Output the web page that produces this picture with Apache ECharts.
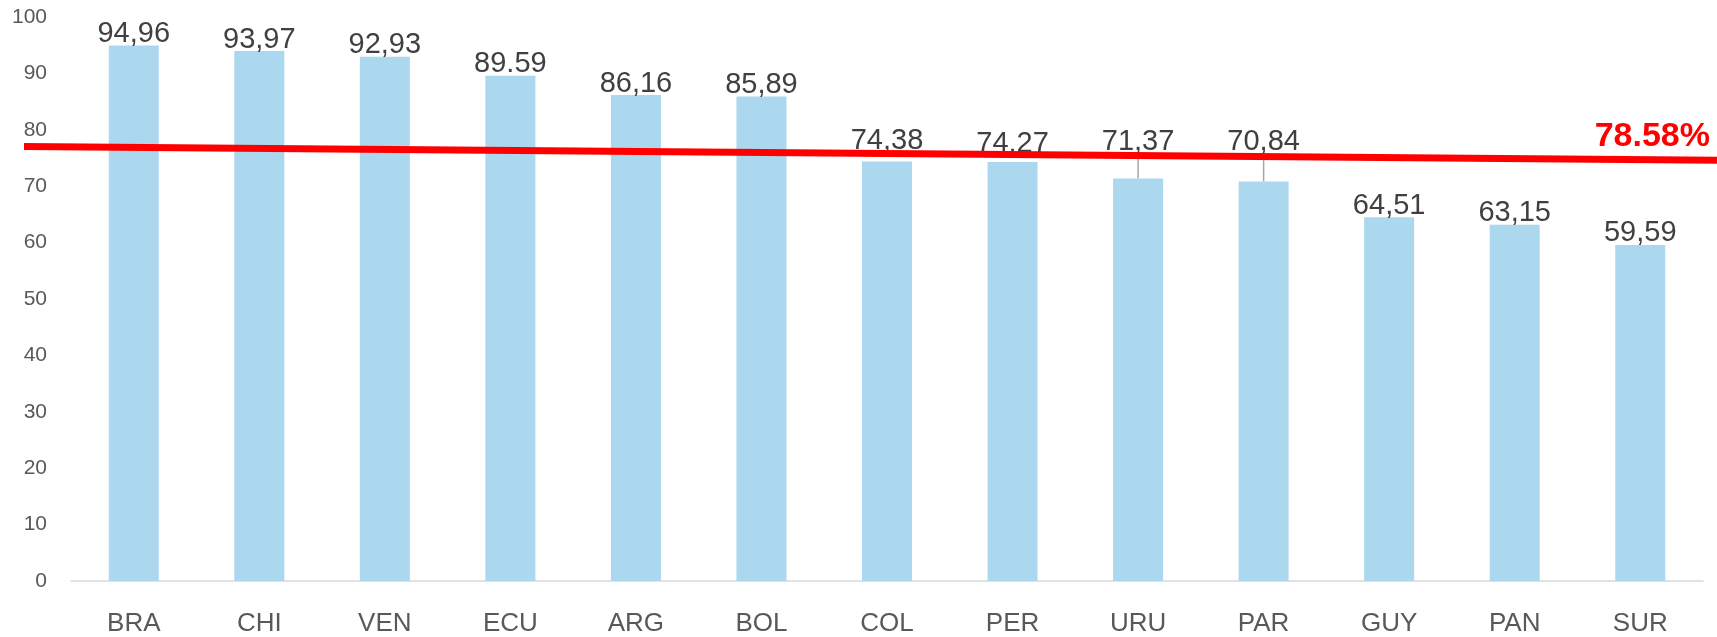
<!DOCTYPE html>
<html>
<head>
<meta charset="utf-8">
<script src="https://cdn.jsdelivr.net/npm/echarts@6/dist/echarts.min.js"></script>
<style>
html,body{margin:0;padding:0;background:#fff;}
#chart{width:1717px;height:637px;}
</style>
</head>
<body>
<div id="chart"></div>
<script>
// ---- data ----
const categories = ['BRA','CHI','VEN','ECU','ARG','BOL','COL','PER','URU','PAR','GUY','PAN','SUR'];
const values = [94.96, 93.97, 92.93, 89.59, 86.16, 85.89, 74.38, 74.27, 71.37, 70.84, 64.51, 63.15, 59.59];
const valueLabels = ['94,96','93,97','92,93','89.59','86,16','85,89','74,38','74,27','71,37','70,84','64,51','63,15','59,59'];
const yTicks = [0,10,20,30,40,50,60,70,80,90,100];
const refLineX = [0, 1];
const refLineY = [77.1, 74.7];
const refLineLabel = '78.58%';

// ---- chart ----
const labelNudge = [0,0,0,0,0,0,9,7,25,28,0,0,0];
const withLeader = [false,false,false,false,false,false,false,false,true,true,false,false,false];

const chart = echarts.init(document.getElementById('chart'), null, {renderer:'canvas'});
const FONT = 'Liberation Sans';

const barData = values.map((v, i) => {
  const item = { value: v };
  if (withLeader[i]) {
    item.labelLine = { show: true, lineStyle: { color: '#A6A6A6', width: 1.5 } };
  }
  return item;
});

const option = {
  animation: false,
  backgroundColor: '#ffffff',
  grid: [
    { left: 71, right: 14, top: 17, bottom: 54 },
    { left: 24, right: 0, top: 17, bottom: 54 }
  ],
  xAxis: [
    {
      type: 'category', gridIndex: 0, data: categories,
      axisLine: { show: true, lineStyle: { color: '#D9D9D9', width: 1.5 } },
      axisTick: { show: false },
      axisLabel: { color: '#595959', fontSize: 26, fontFamily: FONT, margin: 30 }
    },
    {
      type: 'value', gridIndex: 1, min: refLineX[0], max: refLineX[1], show: false
    }
  ],
  yAxis: [
    {
      type: 'value', gridIndex: 0, min: yTicks[0], max: yTicks[yTicks.length-1], interval: yTicks[1]-yTicks[0],
      axisLine: { show: false }, axisTick: { show: false }, splitLine: { show: false },
      axisLabel: { color: '#595959', fontSize: 21, fontFamily: FONT, margin: 24 }
    },
    {
      type: 'value', gridIndex: 1, min: yTicks[0], max: yTicks[yTicks.length-1], show: false
    }
  ],
  series: [
    {
      type: 'bar', xAxisIndex: 0, yAxisIndex: 0,
      data: barData,
      barWidth: 50,
      itemStyle: { color: '#ABD7EF' },
      label: {
        show: true, position: 'top', distance: -3,
        color: '#404040', fontSize: 29, fontFamily: FONT,
        formatter: p => valueLabels[p.dataIndex]
      },
      labelLine: { show: false, lineStyle: { color: '#A6A6A6', width: 1.5 } },
      labelLayout: p => ({ dy: -labelNudge[p.dataIndex] }),
      z: 2
    },
    {
      type: 'line', xAxisIndex: 1, yAxisIndex: 1,
      data: refLineX.map((x, i) => [x, refLineY[i]]),
      symbol: 'none',
      lineStyle: { color: '#FF0000', width: 7 },
      label: { show: false },
      endLabel: {
        show: true, formatter: refLineLabel,
        color: '#FF0000', fontSize: 34, fontWeight: 'bold', fontFamily: FONT,
        align: 'right', offset: [-15, -24]
      },
      z: 5
    }
  ]
};
chart.setOption(option);
</script>
</body>
</html>
